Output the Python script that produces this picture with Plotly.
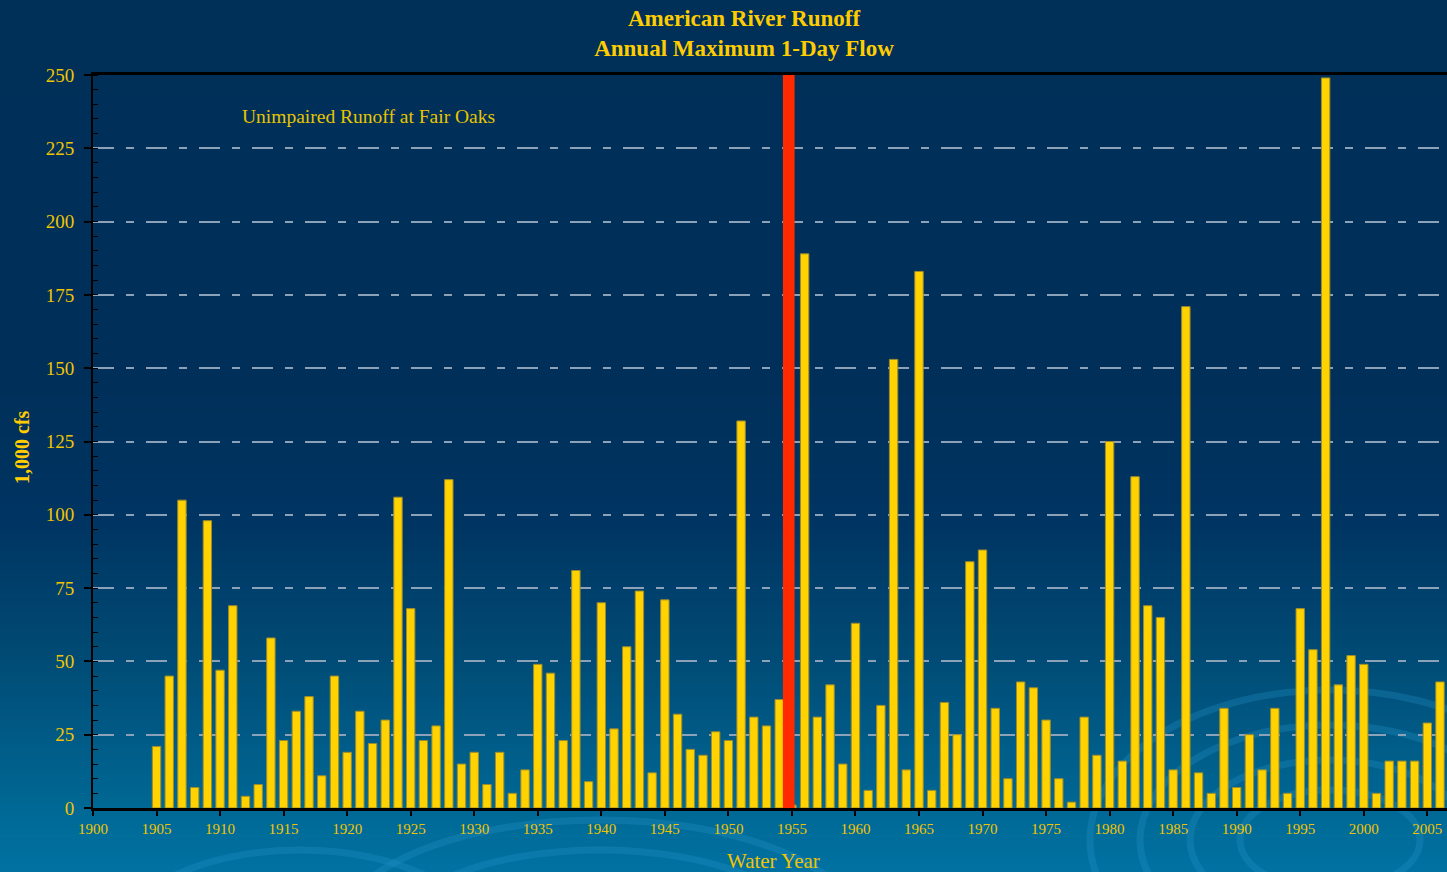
import plotly.graph_objects as go

# ---------------- data ----------------
years = list(range(1905, 2007))
max_flow = [
    21, 45, 105, 7, 98, 47, 69, 4, 8, 58,        # 1905-1914
    23, 33, 38, 11, 45, 19, 33, 22, 30, 106,     # 1915-1924
    68, 23, 28, 112, 15, 19, 8, 19, 5, 13,       # 1925-1934
    49, 46, 23, 81, 9, 70, 27, 55, 74, 12,       # 1935-1944
    71, 32, 20, 18, 26, 23, 132, 31, 28, 37,     # 1945-1954
    1, 189, 31, 42, 15, 63, 6, 35, 153, 13,      # 1955-1964
    183, 6, 36, 25, 84, 88, 34, 10, 43, 41,      # 1965-1974
    30, 10, 2, 31, 18, 125, 16, 113, 69, 65,     # 1975-1984
    13, 171, 12, 5, 34, 7, 25, 13, 34, 5,        # 1985-1994
    68, 54, 249, 42, 52, 49, 5, 16, 16, 16,      # 1995-2004
    29, 43,                                      # 2005-2006
]
marker_year = [1954.75]      # red highlight bar
marker_value = [250]

x_ticks = list(range(1900, 2006, 5))
y_ticks = list(range(0, 251, 25))

# ---------------- layout helpers ----------------
W, H = 1447, 872
L, R, T, B = 93, 0, 75, 64
PW, PH = W - L - R, H - T - B


def px(xp):
    return (xp - L) / PW


def py(yp):
    return (H - B - yp) / PH


GOLD = "#FFCC00"
TICKGOLD = "#F0C400"
FONT = "Liberation Serif"

fig = go.Figure()

fig.add_trace(go.Bar(
    x=years, y=max_flow, width=0.66,
    marker=dict(color="#FFD200", line=dict(color="#9C8C2C", width=1)),
    hoverinfo="x+y", showlegend=False,
))
fig.add_trace(go.Bar(
    x=marker_year, y=marker_value, width=0.92,
    marker=dict(color="#FF2A00", line=dict(width=0)),
    hoverinfo="skip", showlegend=False,
))

# ---------------- background gradient ----------------
stops = [(0, (0, 48, 88)), (390, (0, 48, 90)), (520, (0, 52, 98)),
         (650, (0, 74, 116)), (808, (0, 104, 148)), (872, (0, 114, 162))]


def color_at(yp):
    for (y0, c0), (y1, c1) in zip(stops[:-1], stops[1:]):
        if y0 <= yp <= y1:
            t = (yp - y0) / (y1 - y0) if y1 > y0 else 0
            return tuple(round(a + (b - a) * t) for a, b in zip(c0, c1))
    return stops[-1][1]


shapes = []
step = 6
for yp in range(0, H, step):
    c = color_at(yp + step / 2)
    shapes.append(dict(
        type="rect", xref="paper", yref="paper", layer="below",
        x0=px(-5), x1=px(W + 5), y0=py(yp + step + 0.5), y1=py(yp - 0.5),
        fillcolor="rgb(%d,%d,%d)" % c, line=dict(width=0),
    ))

# faint swirl decoration
swirls = [(1330, 840, 90, 50), (1330, 840, 140, 80), (1330, 840, 190, 115),
          (1330, 840, 240, 150), (600, 930, 260, 110), (600, 930, 200, 80),
          (300, 940, 180, 90)]
for cx, cy, rx, ry in swirls:
    shapes.append(dict(
        type="circle", xref="paper", yref="paper", layer="below",
        x0=px(cx - rx), x1=px(cx + rx), y0=py(cy + ry), y1=py(cy - ry),
        line=dict(color="rgba(40,150,205,0.28)", width=7),
    ))

fig.update_layout(
    width=W, height=H,
    margin=dict(l=L, r=R, t=T, b=B),
    paper_bgcolor="rgb(0,48,88)",
    plot_bgcolor="rgba(0,0,0,0)",
    barmode="overlay",
    shapes=shapes,
    font=dict(family=FONT, color=TICKGOLD),
    title=dict(
        text="<b>American River Runoff<br>Annual Maximum 1-Day Flow</b>",
        x=744 / W, xanchor="center", xref="container",
        y=1 - 26 / H, yanchor="middle", yref="container",
        font=dict(family=FONT, size=23, color=GOLD),
    ),
    xaxis=dict(
        range=[1900, 2006.55], tickvals=x_ticks,
        ticks="outside", ticklen=5, tickwidth=1.5, tickcolor="black",
        showline=True, linecolor="black", linewidth=3, mirror=True,
        showgrid=False, zeroline=False,
        tickfont=dict(family=FONT, size=15, color=TICKGOLD),
    ),
    yaxis=dict(
        range=[0, 250], tickvals=y_ticks,
        ticks="outside", ticklen=7, tickwidth=2, tickcolor="black",
        ticklabelstandoff=6,
        minor=dict(dtick=5, ticks="inside", ticklen=5, tickcolor="black",
                   tickwidth=1, showgrid=False),
        showline=True, linecolor="black", linewidth=2,
        showgrid=True, gridcolor="#8CA2B8", gridwidth=2,
        griddash="21px,12px,8px,12px",
        zeroline=False,
        tickfont=dict(family=FONT, size=19, color=TICKGOLD),
    ),
    annotations=[
        dict(text="Unimpaired Runoff at Fair Oaks", xref="paper", yref="paper",
             x=px(240), y=py(117), xanchor="left", yanchor="middle",
             showarrow=False, font=dict(family=FONT, size=19.5, color="#E8C400")),
        dict(text="<b>1,000 cfs</b>", xref="paper", yref="paper",
             x=px(22), y=py(447), xanchor="center", yanchor="middle",
             textangle=-90, showarrow=False,
             font=dict(family=FONT, size=20, color=GOLD)),
        dict(text="Water Year", xref="paper", yref="paper",
             x=px(773), y=py(861), xanchor="center", yanchor="middle",
             showarrow=False, font=dict(family=FONT, size=21, color=TICKGOLD)),
    ],
)

fig.write_html(
    "out.html",
    config={"displayModeBar": False},
    post_script="document.body.style.margin='0';document.body.style.overflow='hidden';",
)
